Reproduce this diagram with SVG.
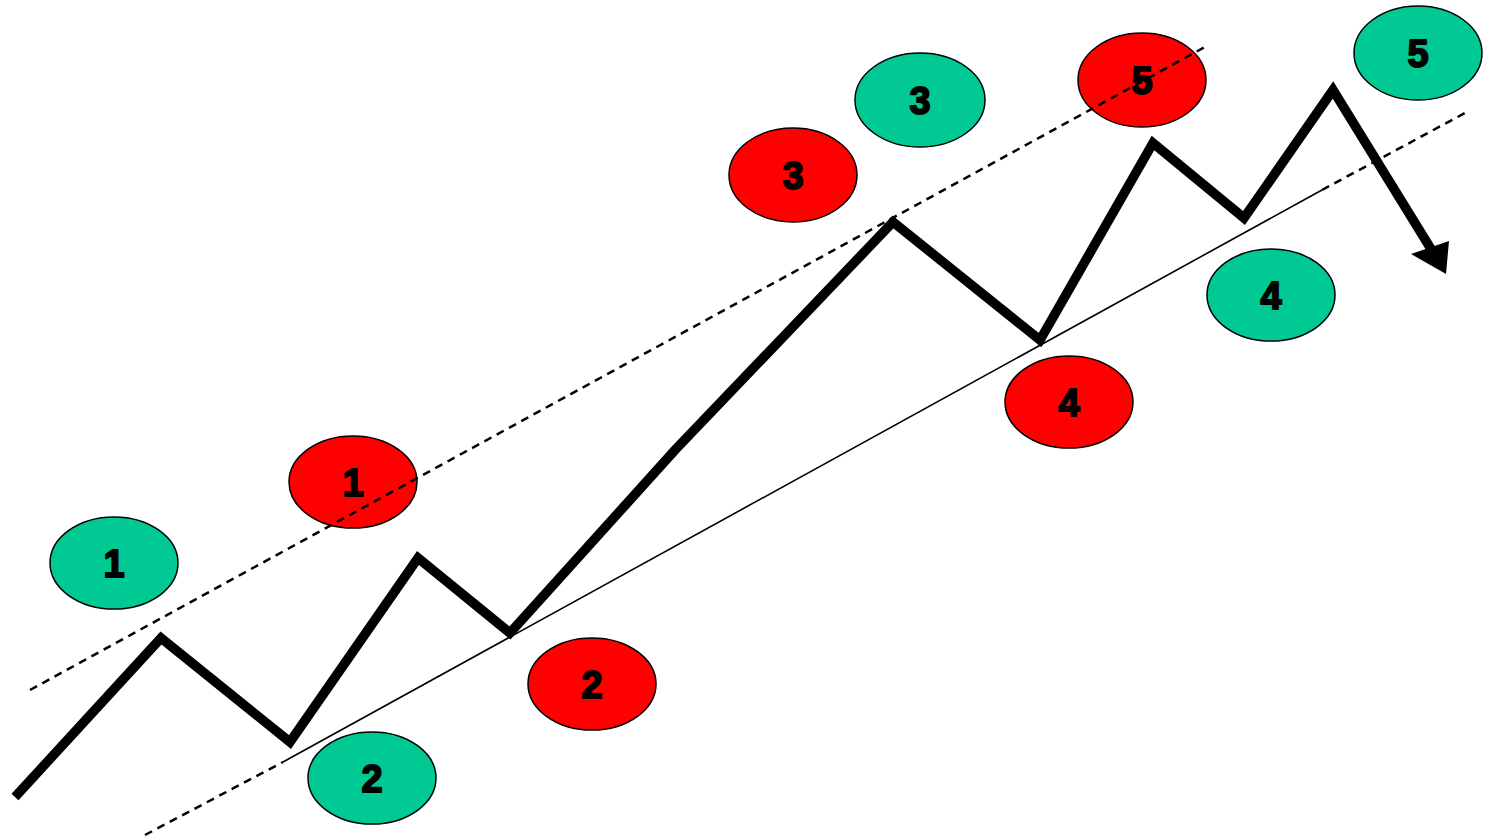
<svg xmlns="http://www.w3.org/2000/svg" width="1489" height="839" viewBox="0 0 1489 839">
<style>
.g{fill:#00C994;stroke:#000;stroke-width:1.5}
.r{fill:#FF0000;stroke:#000;stroke-width:1.5}
.t{font-family:"Liberation Sans",Arial,sans-serif;font-weight:bold;font-size:38px;fill:#000;stroke:#000;stroke-width:1.8;stroke-linejoin:round;text-anchor:middle}
.dash{fill:none;stroke:#000;stroke-width:2.5;stroke-dasharray:8 6}
.thin{fill:none;stroke:#000;stroke-width:1.6}
.zig{fill:none;stroke:#000;stroke-width:9.5;stroke-linejoin:miter;stroke-miterlimit:10}
</style>
<rect width="1489" height="839" fill="#fff"/>
<g id="g1"><ellipse class="g" cx="114" cy="563" rx="64" ry="46"/><text class="t" x="114" y="577">1</text></g>
<g id="r1"><ellipse class="r" cx="353" cy="482" rx="64" ry="46"/><text class="t" x="353" y="496">1</text></g>
<g id="g2"><ellipse class="g" cx="372" cy="778" rx="64" ry="46"/><text class="t" x="372" y="792">2</text></g>
<g id="r2"><ellipse class="r" cx="592" cy="684" rx="64" ry="46"/><text class="t" x="592" y="698">2</text></g>
<g id="r3"><ellipse class="r" cx="793" cy="175" rx="64" ry="47"/><text class="t" x="793" y="189">3</text></g>
<g id="g3"><ellipse class="g" cx="920" cy="100" rx="65" ry="47"/><text class="t" x="920" y="114">3</text></g>
<g id="r4"><ellipse class="r" cx="1069" cy="402" rx="64" ry="46"/><text class="t" x="1069" y="416">4</text></g>
<g id="g4"><ellipse class="g" cx="1271" cy="295" rx="64" ry="46"/><text class="t" x="1271" y="309">4</text></g>
<g id="r5"><ellipse class="r" cx="1142" cy="80" rx="64" ry="47"/><text class="t" x="1142" y="94">5</text></g>
<g id="g5"><ellipse class="g" cx="1418" cy="53" rx="64" ry="47"/><text class="t" x="1418" y="67">5</text></g>
<g id="connectors">
<line class="dash" x1="30" y1="690" x2="1205" y2="47"/>
<line class="dash" x1="145" y1="835" x2="283" y2="762"/>
<line class="thin" x1="283" y1="762" x2="1322" y2="190"/>
<line class="dash" x1="1322" y1="190" x2="1465" y2="113"/>
<polyline class="zig" points="15,797 161,638 290,742 418,558 510,633 675,450 893,222 1040,340 1153,143 1244,218 1333,90 1431,249"/>
<polygon points="1446,274 1411,254 1449,241" fill="#000"/>
</g>
</svg>
